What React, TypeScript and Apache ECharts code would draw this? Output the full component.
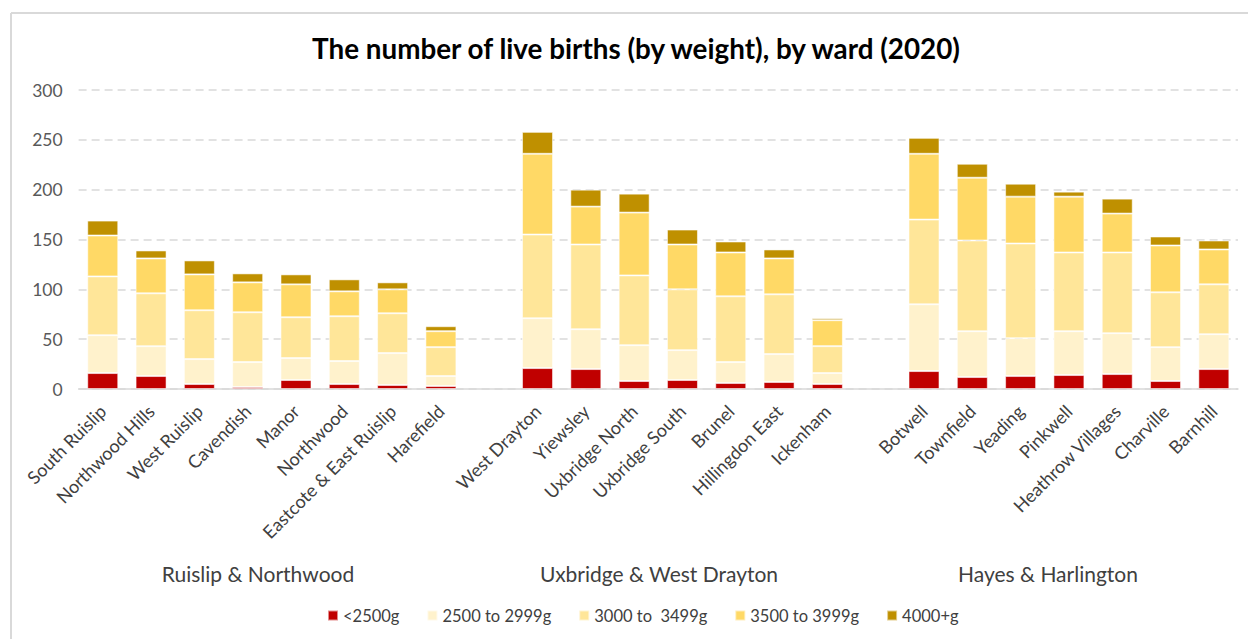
import React, { useEffect, useRef } from "react";
import * as echarts from "echarts";

const wards = [
  "South Ruislip", "Northwood Hills", "West Ruislip", "Cavendish", "Manor", "Northwood", "Eastcote & East Ruislip", "Harefield",
  "",
  "West Drayton", "Yiewsley", "Uxbridge North", "Uxbridge South", "Brunel", "Hillingdon East", "Ickenham",
  "",
  "Botwell", "Townfield", "Yeading", "Pinkwell", "Heathrow Villages", "Charville", "Barnhill",
];

const under2500 = [16, 13, 5, 2, 9, 5, 4, 3, null, 21, 20, 8, 9, 6, 7, 5, null, 18, 12, 13, 14, 15, 8, 20];
const w2500to2999 = [38, 30, 25, 25, 22, 23, 32, 10, null, 50, 40, 36, 30, 21, 28, 11, null, 67, 46, 38, 44, 41, 34, 35];
const w3000to3499 = [59, 53, 49, 50, 41, 45, 40, 29, null, 84, 85, 70, 61, 66, 60, 27, null, 85, 91, 95, 79, 81, 55, 50];
const w3500to3999 = [41, 35, 36, 30, 33, 25, 24, 16, null, 81, 38, 63, 45, 44, 36, 26, null, 66, 63, 47, 56, 39, 47, 35];
const w4000plus = [15, 8, 14, 9, 10, 12, 7, 5, null, 22, 17, 19, 15, 11, 9, 2, null, 16, 14, 13, 5, 15, 9, 9];

const seriesNames = ["<2500g", "2500 to 2999g", "3000 to  3499g", "3500 to 3999g", "4000+g"];
const seriesColors = ["#C00000", "#FFF2CC", "#FFE699", "#FFD966", "#BF9000"];
const seriesValues = [under2500, w2500to2999, w3000to3499, w3500to3999, w4000plus];

const groupNames = ["Ruislip & Northwood", "Uxbridge & West Drayton", "Hayes & Harlington"];
const groupCenters = [258, 659, 1048];

const yTicks = { min: 0, max: 300, interval: 50 };

const FONT = "Lato, 'Noto Sans', sans-serif";

export default function App() {
  const ref = useRef<HTMLDivElement>(null);

  useEffect(() => {
    if (!ref.current) return;
    const chart = echarts.init(ref.current, null, { renderer: "svg" });
    chart.setOption({
      animation: false,
      backgroundColor: "#ffffff",
      textStyle: { fontFamily: FONT },
      grid: { left: 78.6, right: 10, top: 90, bottom: 250 },
      legend: {
        data: seriesNames,
        top: 602,
        left: 322,
        itemWidth: 10,
        itemHeight: 10,
        itemGap: 27,
        icon: "rect",
        textStyle: { fontSize: 16.5, color: "#404040", fontFamily: FONT },
      },
      xAxis: {
        type: "category",
        data: wards,
        axisTick: { show: false },
        axisLine: { lineStyle: { color: "#d9d9d9", width: 1.5 } },
        axisLabel: {
          interval: 0,
          rotate: 45,
          fontSize: 18,
          color: "#404040",
          margin: 19,
          fontFamily: FONT,
        },
      },
      yAxis: {
        type: "value",
        min: yTicks.min,
        max: yTicks.max,
        interval: yTicks.interval,
        axisLine: { show: false },
        axisTick: { show: false },
        axisLabel: { fontSize: 17.5, color: "#595959", margin: 16, fontFamily: FONT },
        splitLine: { lineStyle: { color: "#d9d9d9", width: 1.5, type: [8, 5] } },
      },
      series: seriesNames.map((name, i) => ({
        name,
        type: "bar",
        stack: "total",
        data: seriesValues[i],
        barWidth: 31,
        itemStyle: {
          color: seriesColors[i],
          borderColor: "rgba(255,255,255,0.55)",
          borderWidth: 1,
        },
      })),
      graphic: [
        {
          type: "line",
          shape: { x1: 11, y1: 13, x2: 1248, y2: 13 },
          style: { stroke: "#d9d9d9", lineWidth: 2 },
        },
        {
          type: "line",
          shape: { x1: 11, y1: 13, x2: 11, y2: 639 },
          style: { stroke: "#d9d9d9", lineWidth: 2 },
        },
        {
          type: "text",
          x: 636,
          y: 48,
          style: {
            text: "The number of live births (by weight), by ward (2020)",
            fontSize: 27.8,
            fontWeight: "bold",
            fill: "#000000",
            fontFamily: FONT,
            align: "center",
            verticalAlign: "middle",
          },
        },
        ...groupNames.map((g, i) => ({
          type: "text",
          x: groupCenters[i],
          y: 573,
          style: {
            text: g,
            fontSize: 21,
            fill: "#404040",
            fontFamily: FONT,
            align: "center",
            verticalAlign: "middle",
          },
        })),
      ],
    });
    return () => chart.dispose();
  }, []);

  return (
    <div
      ref={ref}
      style={{ position: "absolute", left: 0, top: 0, width: 1248, height: 639 }}
    />
  );
}
